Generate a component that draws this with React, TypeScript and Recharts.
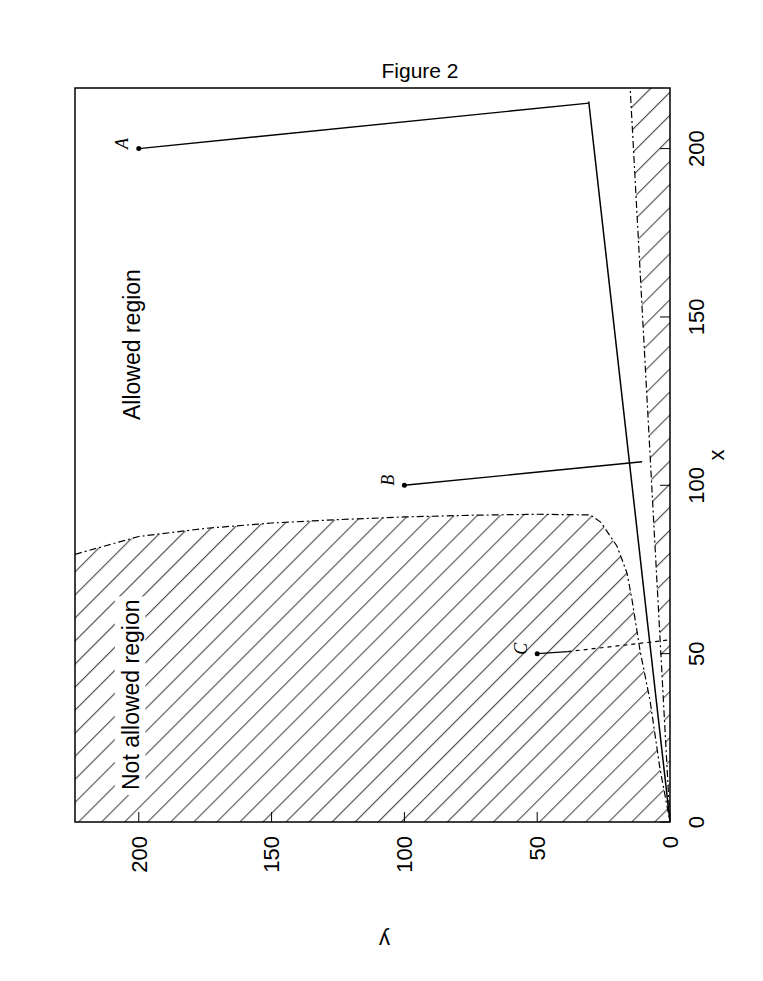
import React from "react";
import {
  ComposedChart,
  Line,
  Area,
  XAxis,
  YAxis,
  ReferenceArea,
  ReferenceDot,
  Label,
} from "recharts";

const xTicks = [0, 50, 100, 150, 200];
const yTicks = [0, 50, 100, 150, 200];
const xMax = 218;
const yMax = 224;

// edge of the hatched "not allowed" region, from the top of the plot down to the origin
const upperBoundary = [
  { x: 79.5, y: 224 },
  { x: 84.8, y: 200 },
  { x: 87.2, y: 175 },
  { x: 88.8, y: 150 },
  { x: 89.8, y: 125 },
  { x: 90.6, y: 100 },
  { x: 91.1, y: 75 },
  { x: 91.4, y: 50 },
  { x: 91.2, y: 30 },
  { x: 89, y: 26 },
  { x: 82, y: 20 },
  { x: 74, y: 16.2 },
  { x: 66, y: 14.3 },
  { x: 51, y: 11.3 },
  { x: 36, y: 7.5 },
  { x: 16, y: 3.8 },
  { x: 0, y: 0 },
];

// lower edge, hatched below
const lowerBoundary = [
  { x: 0, y: 0 },
  { x: 218, y: 15 },
];

const mainLine = [
  { x: 0, y: 0 },
  { x: 214, y: 30.6 },
];

const pathA = [
  { x: 200, y: 200 },
  { x: 213.5, y: 30.5 },
];
const pathB = [
  { x: 100, y: 100 },
  { x: 107, y: 10.5 },
];
const pathCSolid = [
  { x: 50, y: 50 },
  { x: 50.6, y: 38.5 },
];
const pathCDashed = [
  { x: 50.6, y: 38.5 },
  { x: 54, y: 1 },
];

const startPoints = [
  { name: "A", x: 200, y: 200 },
  { name: "B", x: 100, y: 100 },
  { name: "C", x: 50, y: 50 },
];

const regionLabels = [
  { text: "Not allowed region", x: 9.5, y: 203 },
  { text: "Allowed region", x: 119.4, y: 202.5 },
];

const font = "'Liberation Sans', Arial, sans-serif";

const YTitle = (props: any) => {
  const vb = props.viewBox;
  const cx = vb.x - 38;
  const cy = vb.y + vb.height / 2 + 12;
  return (
    <text
      x={cx}
      y={cy}
      transform={`rotate(-90 ${cx} ${cy})`}
      textAnchor="middle"
      dominantBaseline="central"
      fontSize={22}
      fill="#000"
    >
      y
    </text>
  );
};

export default function App() {
  return (
    <>
      <div
        style={{
          position: "absolute",
          left: 320,
          top: 60,
          width: 200,
          textAlign: "center",
          fontFamily: font,
          fontSize: 21,
          lineHeight: "21px",
          color: "#000",
        }}
      >
        Figure 2
      </div>
      <div
        style={{
          position: "absolute",
          left: 0,
          top: 0,
          width: 981,
          height: 763,
          transformOrigin: "0 0",
          transform: "translate(0px, 981px) rotate(-90deg)",
        }}
      >
        <ComposedChart
          width={981}
          height={763}
          margin={{ top: 75, right: 88, bottom: 33, left: 79 }}
          style={{ fontFamily: font }}
        >
          <defs>
            <pattern
              id="hatch"
              patternUnits="userSpaceOnUse"
              width={16.3}
              height={16.3}
              patternTransform="rotate(-45)"
            >
              <line x1={8} y1={0} x2={8} y2={16.3} stroke="#222" strokeWidth={0.9} />
            </pattern>
          </defs>

          <XAxis
            type="number"
            dataKey="x"
            domain={[0, xMax]}
            ticks={xTicks}
            allowDataOverflow
            height={60}
            axisLine={false}
            stroke="#000"
            tickSize={-10}
            tickMargin={28}
            tick={{ fill: "#000", fontSize: 22 }}
          >
            <Label value="x" position="insideBottom" offset={6} fill="#000" fontSize={22} />
          </XAxis>
          <XAxis
            xAxisId="top"
            orientation="top"
            type="number"
            dataKey="x"
            domain={[0, xMax]}
            ticks={xTicks}
            allowDataOverflow
            height={0}
            axisLine={false}
            stroke="#000"
            tickSize={-10}
            tick={false}
          />
          <YAxis
            type="number"
            dataKey="y"
            domain={[0, yMax]}
            ticks={yTicks}
            allowDataOverflow
            width={80}
            axisLine={false}
            stroke="#000"
            tickSize={-10}
            tickMargin={24}
            tick={{ fill: "#000", fontSize: 22 }}
          >
            <Label content={YTitle} />
          </YAxis>
          <YAxis
            yAxisId="right"
            orientation="right"
            type="number"
            dataKey="y"
            domain={[0, yMax]}
            ticks={yTicks}
            allowDataOverflow
            width={0}
            axisLine={false}
            stroke="#000"
            tickSize={-10}
            tick={false}
          />

          <Area
            data={upperBoundary}
            dataKey="y"
            type="linear"
            baseValue={yMax}
            stroke="none"
            fill="url(#hatch)"
            fillOpacity={1}
            isAnimationActive={false}
          />
          <Area
            data={lowerBoundary}
            dataKey="y"
            type="linear"
            baseValue={0}
            stroke="none"
            fill="url(#hatch)"
            fillOpacity={1}
            isAnimationActive={false}
          />

          {/* white box behind the "Not allowed region" text */}
          <ReferenceArea x1={8} x2={67} y1={197.5} y2={209} fill="#fff" fillOpacity={1} stroke="none" />

          <Line
            data={upperBoundary}
            dataKey="y"
            type="linear"
            stroke="#000"
            strokeWidth={1.2}
            strokeDasharray="7 3 2 3"
            dot={false}
            isAnimationActive={false}
          />
          <Line
            data={lowerBoundary}
            dataKey="y"
            type="linear"
            stroke="#000"
            strokeWidth={1.2}
            strokeDasharray="7 3 2 3"
            dot={false}
            isAnimationActive={false}
          />
          <Line data={mainLine} dataKey="y" type="linear" stroke="#000" strokeWidth={1.5} dot={false} isAnimationActive={false} />
          <Line data={pathA} dataKey="y" type="linear" stroke="#000" strokeWidth={1.4} dot={false} isAnimationActive={false} />
          <Line data={pathB} dataKey="y" type="linear" stroke="#000" strokeWidth={1.4} dot={false} isAnimationActive={false} />
          <Line data={pathCSolid} dataKey="y" type="linear" stroke="#000" strokeWidth={1.2} dot={false} isAnimationActive={false} />
          <Line
            data={pathCDashed}
            dataKey="y"
            type="linear"
            stroke="#000"
            strokeWidth={1.2}
            strokeDasharray="4 4"
            dot={false}
            isAnimationActive={false}
          />

          {startPoints.map((p) => (
            <ReferenceDot
              key={p.name}
              x={p.x}
              y={p.y}
              r={2.5}
              fill="#000"
              stroke="none"
              label={{
                value: p.name,
                position: "top",
                offset: 8,
                dx: 5,
                fill: "#000",
                fontSize: 18,
                fontStyle: "italic",
                fontFamily: "'Liberation Serif', serif",
              }}
            />
          ))}

          {regionLabels.map((t) => (
            <ReferenceDot
              key={t.text}
              x={t.x}
              y={t.y}
              r={0}
              fill="none"
              stroke="none"
              label={{ value: t.text, position: "right", offset: 0, fill: "#000", fontSize: 23 }}
            />
          ))}

          <ReferenceArea
            x1={0}
            x2={xMax}
            y1={0}
            y2={yMax}
            fill="none"
            fillOpacity={0}
            stroke="#000"
            strokeWidth={1.5}
            ifOverflow="visible"
          />
        </ComposedChart>
      </div>
    </>
  );
}
